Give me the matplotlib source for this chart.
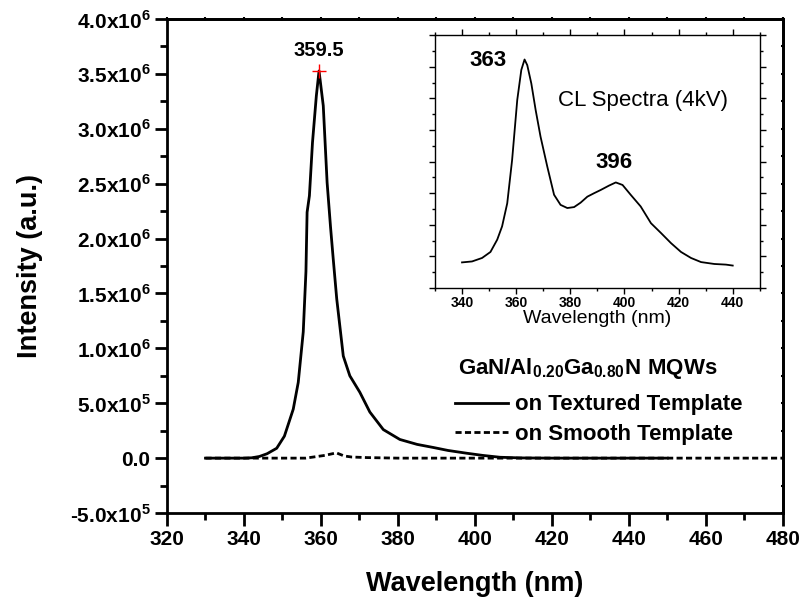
import matplotlib
matplotlib.use("Agg")
import matplotlib.pyplot as plt
from matplotlib.ticker import MultipleLocator, FixedLocator, FuncFormatter
from matplotlib.lines import Line2D

plt.rcParams['font.family'] = ['Liberation Sans', 'DejaVu Sans']
plt.rcParams['mathtext.fontset'] = 'custom'
plt.rcParams['mathtext.rm'] = 'Liberation Sans'
plt.rcParams['mathtext.bf'] = 'Liberation Sans:bold'

# PL spectra (x in nm, intensity in units of 1e6)
wl_textured = [330, 340, 342, 344, 346, 348.5, 350.5, 352.8, 354.1, 355.4, 356.1,
               356.4, 357.0, 357.8, 358.8, 359.5, 360.6, 361.6, 362.5, 363.2, 364.1,
               365.8, 367.5, 370.1, 372.7, 376.2, 380.5, 385, 389.2, 393, 397.8,
               402, 406.5, 412, 420, 450]
int_textured = [0, 0, 0.003, 0.015, 0.04, 0.09, 0.2, 0.446, 0.69, 1.15, 1.7,
                2.24, 2.39, 2.875, 3.3, 3.527, 3.21, 2.51, 2.1, 1.81, 1.45,
                0.93, 0.75, 0.6, 0.42, 0.26, 0.17, 0.125, 0.097, 0.07, 0.045,
                0.025, 0.008, 0.002, 0, 0]

wl_smooth = [330, 356, 358, 361, 364, 366, 368, 372, 380, 480]
int_smooth = [0, 0, 0.01, 0.025, 0.048, 0.02, 0.01, 0.005, 0, 0]

peak_wl = 359.5
peak_int = 3.527

# CL spectrum (arbitrary units)
wl_cl = [340, 343.7, 347.4, 350.5, 353, 354.8, 356.7, 358.5, 360.4, 361.9, 363.1,
         364.1, 365.6, 367.2, 369, 371.5, 374, 376.4, 378.9, 381.4, 383.8, 386.3,
         388.8, 391.2, 394.3, 396.8, 399.3, 402.3, 406, 409.8, 413.5, 417.2,
         420.9, 424.6, 428.3, 433.2, 437.5, 440]
int_cl = [0.81, 0.84, 0.95, 1.14, 1.53, 1.95, 2.68, 4.05, 5.95, 6.9, 7.23,
          7.05, 6.47, 5.63, 4.79, 3.84, 2.95, 2.63, 2.53, 2.56, 2.7, 2.89,
          3.0, 3.1, 3.24, 3.34, 3.26, 2.95, 2.58, 2.05, 1.74, 1.42,
          1.14, 0.95, 0.82, 0.76, 0.74, 0.71]

dash = (0, (2.2, 1.2))

fig = plt.figure(figsize=(8.04, 6.02), dpi=100)
ax = fig.add_axes([0.2077, 0.1478, 0.766, 0.8206])

ax.plot(wl_textured, [v * 1e6 for v in int_textured], color='black', lw=2)
ax.plot(wl_smooth, [v * 1e6 for v in int_smooth], color='black', lw=2, ls=dash)
ax.plot(peak_wl, peak_int * 1e6, '+', color='red', ms=10, mew=1)
ax.annotate(f'{peak_wl}', (peak_wl, peak_int * 1e6), xytext=(0, 8),
            textcoords='offset points', ha='center', va='bottom',
            fontsize=14.5, fontweight='bold')

ax.set_xlim(320, 480)
ax.set_ylim(-0.5e6, 4.0e6)
ax.xaxis.set_major_locator(MultipleLocator(20))
ax.xaxis.set_minor_locator(MultipleLocator(10))
ax.yaxis.set_major_locator(MultipleLocator(0.5e6))
ax.yaxis.set_minor_locator(MultipleLocator(0.25e6))


def sci_fmt(v, pos):
    if abs(v) < 1:
        return '0.0'
    exp = len(str(int(abs(v)))) - 1
    mant = abs(v) / 10 ** exp
    sign = '-' if v < 0 else ''
    return sign + r'$\mathbf{%.1fx10}^{\mathbf{%d}}$' % (mant, exp)


ax.yaxis.set_major_formatter(FuncFormatter(sci_fmt))
ax.tick_params(axis='both', which='major', labelsize=15, length=9, width=2,
               direction='out', pad=3)
ax.tick_params(axis='both', which='minor', length=5, width=2, direction='out')
plt.setp(ax.get_xticklabels() + ax.get_yticklabels(), fontweight='bold')
for s in ax.spines.values():
    s.set_linewidth(2)

# small ticks on top and right
top = ax.secondary_xaxis('top')
top.xaxis.set_major_locator(MultipleLocator(20))
top.xaxis.set_minor_locator(MultipleLocator(10))
right = ax.secondary_yaxis('right')
right.yaxis.set_major_locator(MultipleLocator(0.5e6))
right.yaxis.set_minor_locator(MultipleLocator(0.25e6))
for sec in (top, right):
    sec.tick_params(which='both', direction='inout', length=3, width=1.5,
                    labelsize=0, labeltop=False, labelright=False)
    for s in sec.spines.values():
        s.set_linewidth(2)

ax.set_xlabel('Wavelength (nm)', fontsize=19.5, fontweight='bold', labelpad=16)
ax.set_ylabel('Intensity (a.u.)', fontsize=19.5, fontweight='bold', labelpad=19)

# legend heading and entries
ax.text(0.472, 0.281,
        r'$\mathbf{GaN/Al}_{\mathbf{0.20}}\mathbf{Ga}_{\mathbf{0.80}}\mathbf{N\ MQWs}$',
        transform=ax.transAxes, fontsize=16, ha='left', va='baseline')
handles = [Line2D([], [], color='black', lw=2),
           Line2D([], [], color='black', lw=2, ls=dash)]
leg = ax.legend(handles, ['on Textured Template', 'on Smooth Template'],
                loc='upper left', bbox_to_anchor=(0.467, 0.24), frameon=False,
                prop={'weight': 'bold', 'size': 16},
                handlelength=2.4, handletextpad=0.3, labelspacing=0.38,
                borderpad=0, borderaxespad=0)

# inset: CL spectrum
ins = fig.add_axes([0.541, 0.5216, 0.404, 0.420])
ins.plot(wl_cl, int_cl, color='black', lw=1.3)
ins.set_xlim(330, 450)
ins.set_ylim(0, 8)
ins.xaxis.set_major_locator(FixedLocator([340, 360, 380, 400, 420, 440]))
ins.xaxis.set_minor_locator(MultipleLocator(10))
ins.yaxis.set_major_locator(MultipleLocator(1))
ins.yaxis.set_minor_locator(MultipleLocator(0.5))
ins.set_yticklabels([])
ins.tick_params(which='major', length=4, width=1, labelsize=10, pad=2)
ins.tick_params(which='minor', length=2.5, width=1)
ins.tick_params(axis='both', which='both', right=True, top=True)
plt.setp(ins.get_xticklabels(), fontweight='bold')
ins.set_xlabel('Wavelength (nm)', fontsize=14, labelpad=0)
for s in ins.spines.values():
    s.set_linewidth(1)
ins.text(349.6, 7.2, '363', fontsize=16, fontweight='bold', ha='center', va='center')
ins.text(396, 3.98, '396', fontsize=16, fontweight='bold', ha='center', va='center')
ins.text(407, 5.94, 'CL Spectra (4kV)', fontsize=16, ha='center', va='center')

fig.savefig('out.png', dpi=100)
